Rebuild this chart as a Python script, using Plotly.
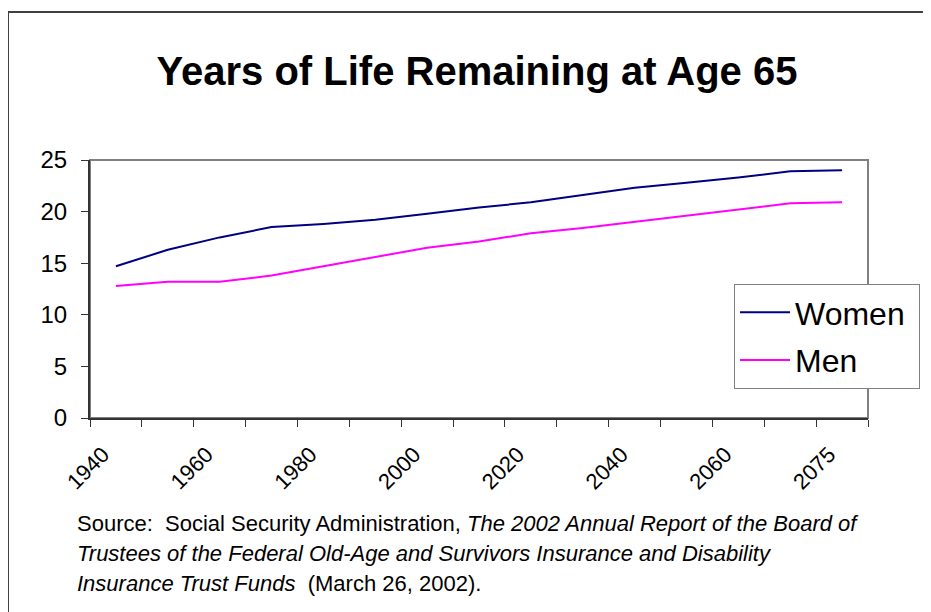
import plotly.graph_objects as go

# chart values
years = ['1940', '1950', '1960', '1970', '1980', '1990', '2000', '2010',
         '2020', '2030', '2040', '2050', '2060', '2070', '2075']
women = [14.7, 16.3, 17.5, 18.5, 18.8, 19.2, 19.8, 20.4,
         20.9, 21.6, 22.3, 22.8, 23.3, 23.9, 24.0]
men = [12.8, 13.2, 13.2, 13.8, 14.7, 15.6, 16.5, 17.1,
       17.9, 18.4, 19.0, 19.6, 20.2, 20.8, 20.9]

# only every other category is labelled, like the original
# (trailing no-break spaces nudge the slanted labels down-left, as Excel sets them)
PAD = '\u00a0' * 3
tick_text = [y + PAD if i % 2 == 0 else '' for i, y in enumerate(years)]

title = 'Years of Life Remaining at Age 65'
source_lines = [
    'Source:  Social Security Administration, <i>The 2002 Annual Report of the Board of</i>',
    '<i>Trustees of the Federal Old-Age and Survivors Insurance and Disability</i>',
    '<i>Insurance Trust Funds</i>  (March 26, 2002).',
]

FONT = 'Arial, Liberation Sans, sans-serif'
W, H = 931, 612
OFF = 8  # page body margin pushes the figure 8px right and down
L, R, T, B = 90, 868, 160, 418   # plot area as seen on the page


def px_x(px):
    return (px - L) / (R - L)


def px_y(py):
    return (B - py) / (B - T)


fig = go.Figure()

fig.add_trace(go.Scatter(
    x=years, y=women, mode='lines', name='Women\u00a0',
    line=dict(color='#000080', width=2), legendgroup='w'
))
fig.add_trace(go.Scatter(
    x=years, y=men, mode='lines', name='Men',
    line=dict(color='#FF00FF', width=2), legendgroup='m'
))

fig.update_layout(
    width=W, height=H,
    margin=dict(l=L - OFF, r=W - R + OFF, t=T - OFF, b=H - B + OFF),
    paper_bgcolor='white',
    plot_bgcolor='white',
    font=dict(family=FONT, color='black'),
    title=dict(
        text='<b>' + title + '</b>',
        font=dict(size=40, family=FONT, color='black'),
        x=px_x(477), xref='paper', xanchor='center',
        y=1 - (71 - OFF) / H, yref='container', yanchor='middle'
    ),
    legend=dict(
        x=px_x(734), y=px_y(284), xanchor='left', yanchor='top',
        bgcolor='white', bordercolor='#808080', borderwidth=1,
        font=dict(size=32, family=FONT, color='black'),
        tracegroupgap=3, itemwidth=50,
    ),
    showlegend=True,
)

fig.update_xaxes(
    type='category',
    range=[-0.5, len(years) - 0.5],
    tickvals=years, ticktext=tick_text,
    tickson='boundaries',
    ticks='outside', ticklen=7, tickcolor='#333333',
    tickangle=-45,
    tickfont=dict(size=22, family=FONT, color='black'),
    showline=True, linecolor='#333333', linewidth=2,
    showgrid=False, zeroline=False,
)

fig.update_yaxes(
    range=[0, 25], dtick=5,
    ticks='outside', ticklen=7, tickcolor='#333333',
    ticklabelstandoff=9,
    tickfont=dict(size=24, family=FONT, color='black'),
    showline=True, linecolor='#333333', linewidth=2,
    showgrid=False, zeroline=False,
)

# plot area frame (grey) behind the black axes
fig.add_shape(type='rect', xref='paper', yref='paper', x0=0, y0=0, x1=1, y1=1,
              line=dict(color='#808080', width=2), layer='below')

# outer chart border (top and left visible)
fig.add_shape(type='line', xref='paper', yref='paper',
              x0=px_x(8), x1=px_x(960), y0=px_y(12), y1=px_y(12),
              line=dict(color='#404040', width=2))
fig.add_shape(type='line', xref='paper', yref='paper',
              x0=px_x(8), x1=px_x(8), y0=px_y(12), y1=px_y(660),
              line=dict(color='#404040', width=2))

for i, line in enumerate(source_lines):
    fig.add_annotation(
        text=line, xref='paper', yref='paper',
        x=px_x(75), y=px_y(523 + 30 * i),
        xanchor='left', yanchor='middle', showarrow=False,
        font=dict(size=22, family=FONT, color='black')
    )

fig.write_html('out.html')
